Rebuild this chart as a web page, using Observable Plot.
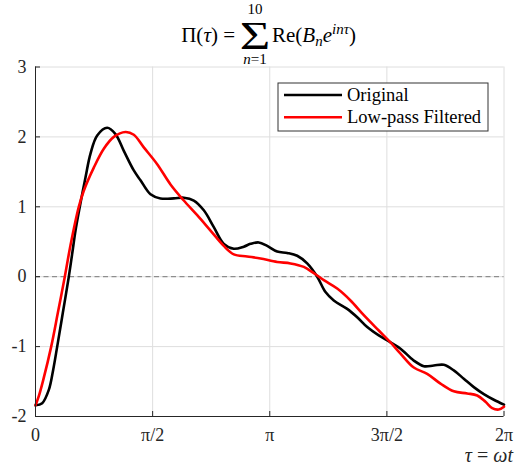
<!DOCTYPE html>
<html><head><meta charset="utf-8">
<script src="https://cdn.jsdelivr.net/npm/d3@7"></script>
<script src="https://cdn.jsdelivr.net/npm/@observablehq/plot@0.6"></script>
<style>body{margin:0;background:#fff;} svg{display:block;}</style>
</head><body><div id="chart"></div>
<script>
// x values are tau / pi
const tauOrig = [0,0.0286,0.0568,0.0756,0.0926,0.1165,0.1422,0.1567,0.1708,0.1891,0.2134,0.2348,0.2634,0.3061,0.3415,0.3770,0.4196,0.4482,0.4909,0.5336,0.5904,0.6331,0.6758,0.7185,0.7612,0.8038,0.8465,0.8892,0.9178,0.9533,0.9891,1.0318,1.0745,1.1172,1.1599,1.2026,1.2380,1.2734,1.3306,1.3733,1.4160,1.4655,1.5155,1.5582,1.6150,1.6577,1.7004,1.7430,1.7857,1.8284,1.8711,1.9138,1.9565,2.0];
const valOrig = [-1.84,-1.81,-1.62,-1.33,-1.00,-0.52,0.00,0.33,0.66,1.00,1.42,1.76,2.02,2.13,2.04,1.80,1.52,1.38,1.18,1.12,1.12,1.13,1.09,0.95,0.71,0.47,0.40,0.43,0.47,0.49,0.44,0.36,0.34,0.30,0.19,0.00,-0.22,-0.34,-0.46,-0.58,-0.72,-0.84,-0.94,-1.03,-1.20,-1.28,-1.27,-1.26,-1.34,-1.46,-1.58,-1.68,-1.76,-1.83];
const tauFilt = [0,0.0141,0.0329,0.0670,0.0952,0.1251,0.1494,0.1848,0.2062,0.2489,0.2916,0.3343,0.3842,0.4196,0.4623,0.5195,0.5763,0.6331,0.6903,0.7471,0.8038,0.8465,0.9037,0.9605,1.0318,1.0886,1.1454,1.1881,1.2308,1.2879,1.3447,1.4015,1.4655,1.5155,1.5582,1.6150,1.6721,1.7289,1.7857,1.8429,1.8856,1.9210,1.9496,1.9778,2.0];
const valFilt = [-1.84,-1.71,-1.48,-1.00,-0.52,0.00,0.45,1.00,1.23,1.56,1.83,2.00,2.07,2.03,1.85,1.61,1.32,1.09,0.88,0.66,0.44,0.32,0.29,0.26,0.21,0.19,0.14,0.05,-0.05,-0.17,-0.34,-0.55,-0.77,-0.94,-1.10,-1.30,-1.39,-1.53,-1.64,-1.67,-1.70,-1.79,-1.88,-1.90,-1.86];
const xTicks = [0,0.5,1,1.5,2];
const xTickLabels = ["0","π/2","π","3π/2","2π"];
const yTicks = [-2,-1,0,1,2,3];
const seriesNames = ["Original","Low-pass Filtered"];
const seriesColors = ["#000000","#ff0000"];

const orig = tauOrig.map((t,i)=>({t, v: valOrig[i]}));
const filt = tauFilt.map((t,i)=>({t, v: valFilt[i]}));

const W=515,H=469,mL=35,mR=11.5,mT=66.5,mB=53;
const iw=W-mL-mR, ih=H-mT-mB;
const axisColor="#262626";
const font="'Liberation Serif','Times New Roman',serif";

const svgEl = Plot.plot({
  width:W, height:H, marginLeft:mL, marginRight:mR, marginTop:mT, marginBottom:mB,
  x:{domain:[0,2]}, y:{domain:[-2,3]},
  style:{fontFamily:font, fontSize:"18px", color:axisColor, background:"#fff"},
  marks:[
    Plot.gridX(xTicks,{stroke:"#dedede", strokeOpacity:1}),
    Plot.gridY(yTicks,{stroke:"#dedede", strokeOpacity:1}),
    Plot.ruleY([0],{stroke:"#7a7a7a", strokeDasharray:"5,3.5", strokeWidth:1}),
    Plot.line(orig,{x:"t", y:"v", stroke:seriesColors[0], strokeWidth:2.6, curve:"catmull-rom"}),
    Plot.line(filt,{x:"t", y:"v", stroke:seriesColors[1], strokeWidth:2.6, curve:"catmull-rom"}),
    Plot.ruleX([0],{stroke:axisColor}),
    Plot.ruleY([-2],{stroke:axisColor}),
    Plot.tickX(xTicks,{x:d=>d, stroke:axisColor, insetTop:ih-5}),
    Plot.tickY(yTicks,{y:d=>d, stroke:axisColor, insetRight:iw-5}),
    Plot.axisX(xTicks,{tickSize:0, tickPadding:12, tickFormat:d=>xTickLabels[xTicks.indexOf(d)], label:null, fontSize:18, fill:axisColor}),
    Plot.axisY(yTicks,{tickSize:0, tickPadding:9, tickFormat:d=>String(d), label:null, fontSize:18, fill:axisColor})
  ]
});
document.getElementById("chart").appendChild(svgEl);
const svg = d3.select(svgEl);

// x-axis label
const xl = svg.append("text").attr("x",513).attr("y",462).attr("text-anchor","end")
  .attr("font-family",font).attr("font-size",20).attr("fill",axisColor);
xl.append("tspan").attr("font-style","italic").text("τ");
xl.append("tspan").text(" = ");
xl.append("tspan").attr("font-style","italic").text("ωt");

// title
const tg = svg.append("g").attr("font-family",font).attr("fill","#000");
const t1 = tg.append("text").attr("x",235).attr("y",41.5).attr("text-anchor","end").attr("font-size",21);
t1.append("tspan").text("Π(");
t1.append("tspan").attr("font-style","italic").text("τ");
t1.append("tspan").text(") =");
tg.append("text").attr("x",255).attr("y",49).attr("text-anchor","middle").attr("font-size",30)
  .attr("transform","translate(255,49) scale(1.75,1.3) translate(-255,-49)").text("Σ");
tg.append("text").attr("x",255).attr("y",14).attr("text-anchor","middle").attr("font-size",15).text("10");
const lo = tg.append("text").attr("x",255).attr("y",64).attr("text-anchor","middle").attr("font-size",15);
lo.append("tspan").attr("font-style","italic").text("n");
lo.append("tspan").text("=1");
const t2 = tg.append("text").attr("x",272).attr("y",41.5).attr("text-anchor","start").attr("font-size",21);
t2.append("tspan").text("Re(");
t2.append("tspan").attr("font-style","italic").text("B");
t2.append("tspan").attr("font-style","italic").attr("font-size",15).attr("dy",4).text("n");
t2.append("tspan").attr("font-style","italic").attr("dy",-4).text("e");
t2.append("tspan").attr("font-style","italic").attr("font-size",15).attr("dy",-8).text("inτ");
t2.append("tspan").attr("dy",8).text(")");

// legend
const lg = svg.append("g").attr("font-family",font);
lg.append("rect").attr("x",278).attr("y",83).attr("width",210).attr("height",48)
  .attr("fill","#fff").attr("stroke","#333").attr("stroke-width",1);
seriesNames.forEach((name,i)=>{
  const y = 95 + i*22.3;
  lg.append("line").attr("x1",284).attr("x2",342).attr("y1",y).attr("y2",y)
    .attr("stroke",seriesColors[i]).attr("stroke-width",2.6);
  lg.append("text").attr("x",347).attr("y",y+5.8).attr("text-anchor","start")
    .attr("font-size",18.5).attr("fill","#000").text(name);
});
</script>
</body></html>
